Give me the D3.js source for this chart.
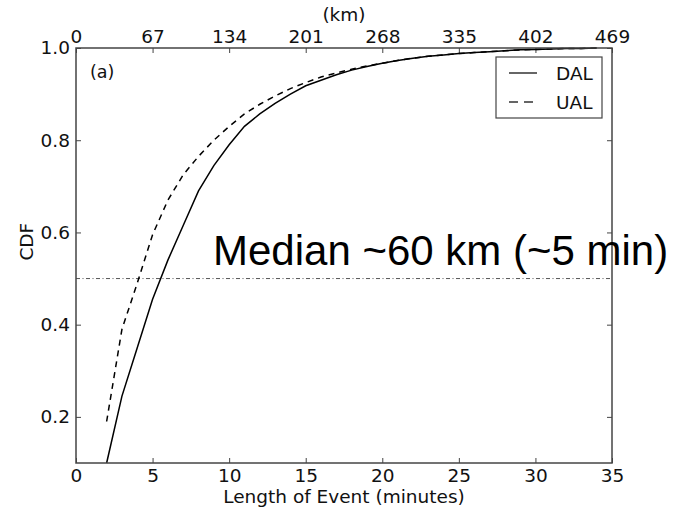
<!DOCTYPE html>
<html>
<head>
<meta charset="utf-8">
<script src="https://cdn.jsdelivr.net/npm/d3@7"></script>
<style>
  body { margin: 0; background: #fff; }
  text { font-family: "DejaVu Sans", sans-serif; }
</style>
</head>
<body>
<script>
// minutes on the x axis
const minutes = [2, 3, 4, 5, 6, 7, 8, 9, 10, 11, 12, 13, 14, 15, 16, 17, 18, 19, 20,
  21, 22, 23, 24, 25, 26, 27, 28, 29, 30, 31, 32, 33, 34];

const dalCdf = [0.10, 0.245, 0.35, 0.455, 0.54, 0.615, 0.69, 0.745, 0.79, 0.83, 0.857, 0.88, 0.90,
  0.918, 0.93, 0.942, 0.952, 0.96, 0.967, 0.973, 0.978, 0.982, 0.985, 0.988, 0.99, 0.992,
  0.994, 0.996, 0.997, 0.998, 0.999, 0.999, 1.0];

const ualCdf = [0.19, 0.39, 0.49, 0.595, 0.67, 0.725, 0.765, 0.80, 0.83, 0.857, 0.878, 0.896, 0.912,
  0.925, 0.937, 0.946, 0.954, 0.961, 0.967, 0.973, 0.978, 0.982, 0.985, 0.988, 0.99, 0.992,
  0.994, 0.996, 0.997, 0.998, 0.999, 0.999, 1.0];

const seriesNames = ["DAL", "UAL"];
const minuteTicks = [0, 5, 10, 15, 20, 25, 30, 35];
const kmTicks = [0, 67, 134, 201, 268, 335, 402, 469];
const cdfTicks = [0.2, 0.4, 0.6, 0.8, 1.0];
const medianValue = 0.5;

const width = 688, height = 509;
const margin = {top: 48, right: 76, bottom: 46, left: 76};
const w = width - margin.left - margin.right;
const h = height - margin.top - margin.bottom;

const svg = d3.select("body").append("svg")
  .attr("width", width)
  .attr("height", height);

const x = d3.scaleLinear().domain([0, 35]).range([0, w]);
const xKm = d3.scaleLinear().domain([0, 469]).range([0, w]);
const y = d3.scaleLinear().domain([0.1, 1.0]).range([h, 0]);

const g = svg.append("g")
  .attr("transform", "translate(" + margin.left + "," + margin.top + ")");

// axes with inward ticks, matplotlib style
const fontSize = 18.5;

const axisBottom = g.append("g")
  .attr("transform", "translate(0," + h + ")")
  .call(d3.axisBottom(x).tickValues(minuteTicks).tickSize(-5).tickPadding(6));

const axisTop = g.append("g")
  .call(d3.axisTop(xKm).tickValues(kmTicks).tickSize(-5).tickPadding(5));

const axisLeft = g.append("g")
  .call(d3.axisLeft(y).tickValues(cdfTicks).tickFormat(d3.format(".1f")).tickSize(-5).tickPadding(6));

const axisRight = g.append("g")
  .attr("transform", "translate(" + w + ",0)")
  .call(d3.axisRight(y).tickValues(cdfTicks).tickFormat("").tickSize(-5));

[axisBottom, axisTop, axisLeft, axisRight].forEach(a => {
  a.select(".domain").remove();
  a.selectAll(".tick line").attr("stroke", "#444");
  a.selectAll("text")
    .attr("font-family", "DejaVu Sans")
    .attr("font-size", fontSize)
    .attr("fill", "#111");
});

// median line
g.append("line")
  .attr("x1", 0).attr("x2", w)
  .attr("y1", y(medianValue)).attr("y2", y(medianValue))
  .attr("stroke", "#555")
  .attr("stroke-width", 1)
  .attr("stroke-dasharray", "4,2.5,1,2.5");

const line = d3.line()
  .x(d => x(d[0]))
  .y(d => y(d[1]));

g.append("path")
  .datum(minutes.map((m, i) => [m, dalCdf[i]]))
  .attr("d", line)
  .attr("fill", "none")
  .attr("stroke", "#000")
  .attr("stroke-width", 1.5);

g.append("path")
  .datum(minutes.map((m, i) => [m, ualCdf[i]]))
  .attr("d", line)
  .attr("fill", "none")
  .attr("stroke", "#000")
  .attr("stroke-width", 1.5)
  .attr("stroke-dasharray", "6,5");

// frame
g.append("rect")
  .attr("width", w).attr("height", h)
  .attr("fill", "none")
  .attr("stroke", "#444")
  .attr("stroke-width", 1.5);

// legend
const legend = g.append("g").attr("transform", "translate(" + (496 - margin.left) + "," + (57 - margin.top) + ")");
legend.append("rect")
  .attr("width", 106).attr("height", 61)
  .attr("fill", "#fff")
  .attr("stroke", "#444")
  .attr("stroke-width", 1.2);

seriesNames.forEach((name, i) => {
  const ly = 16 + i * 29;
  legend.append("line")
    .attr("x1", 13).attr("x2", 41)
    .attr("y1", ly).attr("y2", ly)
    .attr("stroke", "#333")
    .attr("stroke-width", 1.5)
    .attr("stroke-dasharray", i === 0 ? null : "9,6");
  legend.append("text")
    .attr("x", 60).attr("y", ly)
    .attr("dy", "0.36em")
    .attr("font-size", fontSize)
    .attr("fill", "#111")
    .text(name);
});

// labels
g.append("text")
  .attr("x", 14).attr("y", 30)
  .attr("font-size", fontSize - 1)
  .attr("fill", "#111")
  .text("(a)");

svg.append("text")
  .attr("x", margin.left + w / 2).attr("y", 503)
  .attr("text-anchor", "middle")
  .attr("font-size", fontSize)
  .attr("fill", "#111")
  .text("Length of Event (minutes)");

svg.append("text")
  .attr("x", margin.left + w / 2).attr("y", 21)
  .attr("text-anchor", "middle")
  .attr("font-size", fontSize)
  .attr("fill", "#111")
  .text("(km)");

svg.append("text")
  .attr("transform", "translate(33," + (margin.top + y(0.58)) + ") rotate(-90)")
  .attr("text-anchor", "middle")
  .attr("font-size", fontSize)
  .attr("fill", "#111")
  .text("CDF");

svg.append("text")
  .attr("x", 213).attr("y", 265)
  .style("font-family", "'Liberation Sans', Arial, sans-serif")
  .attr("font-size", 42)
  .attr("fill", "#000")
  .text("Median ~60 km (~5 min)");
</script>
</body>
</html>
